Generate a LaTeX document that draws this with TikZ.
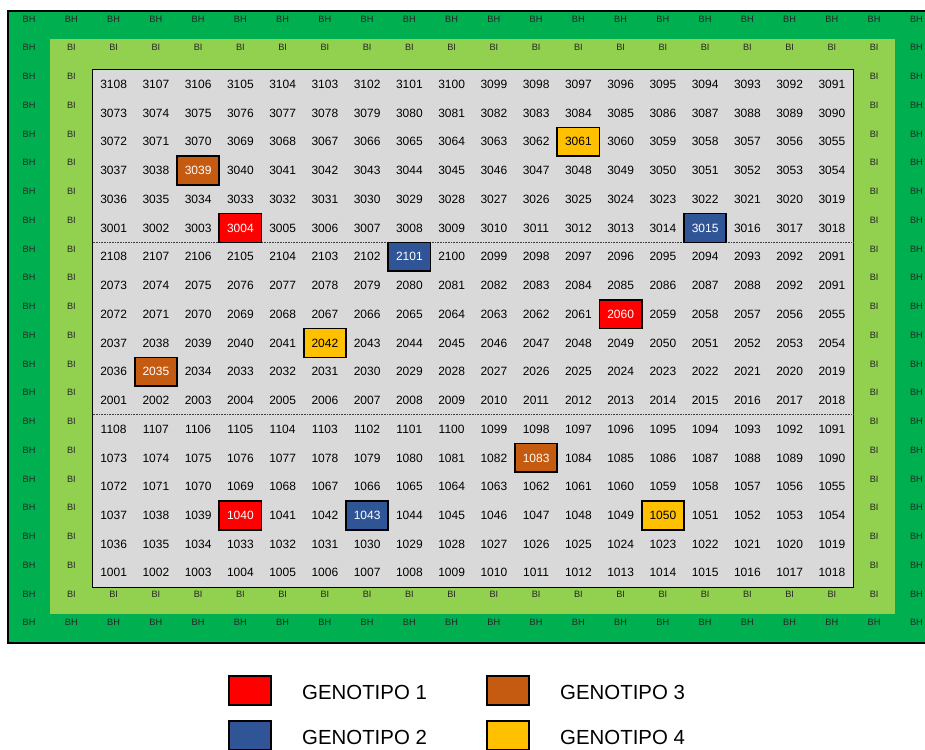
\documentclass[tikz,border=0pt]{standalone}
\usepackage{fontspec}
\setmainfont{Liberation Sans}
\usetikzlibrary{positioning}
\definecolor{bhgreen}{HTML}{00B050}
\definecolor{bigreen}{HTML}{92D050}
\definecolor{plotgray}{HTML}{D9D9D9}
\definecolor{genored}{HTML}{FF0000}
\definecolor{genoblue}{HTML}{2F5597}
\definecolor{genobrown}{HTML}{C55A11}
\definecolor{genoyellow}{HTML}{FFC000}

\begin{document}
\begin{tikzpicture}[x=1pt,y=-1pt]
\tikzset{
  plotlbl/.style={font=\fontsize{9.2}{11}\selectfont,text=black!85,inner sep=0pt},
  num/.style={font=\fontsize{12}{14}\selectfont,inner sep=0pt,
    minimum width=42.25pt,minimum height=28.74pt},
  geno/.style={draw=black,line width=1.6pt,fill=#1},
  g1/.style={geno=genored,text=white},
  g2/.style={geno=genoblue,text=white},
  g3/.style={geno=genobrown,text=white},
  g4/.style={geno=genoyellow},
  % highlighted plots
  cell 3061/.style={g4}, cell 3039/.style={g3}, cell 3004/.style={g1}, cell 3015/.style={g2},
  cell 2101/.style={g2}, cell 2060/.style={g1}, cell 2042/.style={g4}, cell 2035/.style={g3},
  cell 1083/.style={g3}, cell 1040/.style={g1}, cell 1043/.style={g2}, cell 1050/.style={g4},
  key/.style={draw=black,line width=2pt,inner sep=0pt,minimum width=42pt,minimum height=29pt},
  keytext/.style={font=\fontsize{20.4}{24}\selectfont,inner sep=0pt,yshift=-2pt},
  blocksep/.style={black!75,line width=0.8pt,dash pattern=on 0.8pt off 0.8pt}
}
\clip (0,0) rectangle (925,749);

% ------ field, one unit = one plot ------
\begin{scope}[shift={(8,10.7)},x=42.25pt,y=-28.74pt]
  % borders
  \fill[bhgreen] (0,0) rectangle (22,22);
  \draw[black,line width=2pt] (0,0) rectangle (22,22);
  \fill[bigreen] (1,1) rectangle (21,21);
  \draw[fill=plotgray,line width=0.8pt] (2,2.05) rectangle (20,20.05);
  \foreach \y in {8.05,14.05}{
    \draw[blocksep] (2,\y) -- (20,\y);
  }
  % BH ring
  \foreach \c in {0,...,21}{
    \node[plotlbl] (bht\c) at (\c+0.5,0.29) {BH};
    \node[plotlbl] (bhb\c) at (\c+0.5,21.29) {BH};
  }
  \foreach \r in {1,...,20}{
    \node[plotlbl] (bhl\r) at (0.5,\r+0.29) {BH};
    \node[plotlbl] (bhr\r) at (21.5,\r+0.29) {BH};
  }
  % BI ring
  \foreach \c in {1,...,20}{
    \node[plotlbl] (bit\c) at (\c+0.5,1.29) {BI};
    \node[plotlbl] (bib\c) at (\c+0.5,20.29) {BI};
  }
  \foreach \r in {2,...,19}{
    \node[plotlbl] (bil\r) at (1.5,\r+0.29) {BI};
    \node[plotlbl] (bir\r) at (20.5,\r+0.29) {BI};
  }
  % numbered plots, three blocks, serpentine rows
  \foreach \b [count=\i from 0] in {3,2,1}{
    \foreach \k/\base/\dir in {0/109/-1,1/72/1,2/73/-1,3/36/1,4/37/-1,5/0/1}{
      \foreach \j in {1,...,18}{
        \pgfmathtruncatemacro\val{\b*1000+\base+\dir*\j}
        \ifnum\val=2089 \def\val{2092}\fi
        \ifnum\val=2090 \def\val{2091}\fi
        \node[num,cell \val/.try] (n\b-\k-\j) at (\j+1.5,2+6*\i+\k+0.56) {\val};
      }
    }
  }
\end{scope}

% ------ legend ------
\node[key,fill=genored] (key1) at (250,690.5) {};
\node[key,fill=genoblue,below=14pt of key1] (key2) {};
\node[key,fill=genobrown,right=214pt of key1] (key3) {};
\node[key,fill=genoyellow,below=14pt of key3] (key4) {};
\node[keytext,right=30pt of key1] (lbl1) {GENOTIPO 1};
\node[keytext,right=30pt of key2] (lbl2) {GENOTIPO 2};
\node[keytext,right=30pt of key3] (lbl3) {GENOTIPO 3};
\node[keytext,right=30pt of key4] (lbl4) {GENOTIPO 4};
\end{tikzpicture}
\end{document}
